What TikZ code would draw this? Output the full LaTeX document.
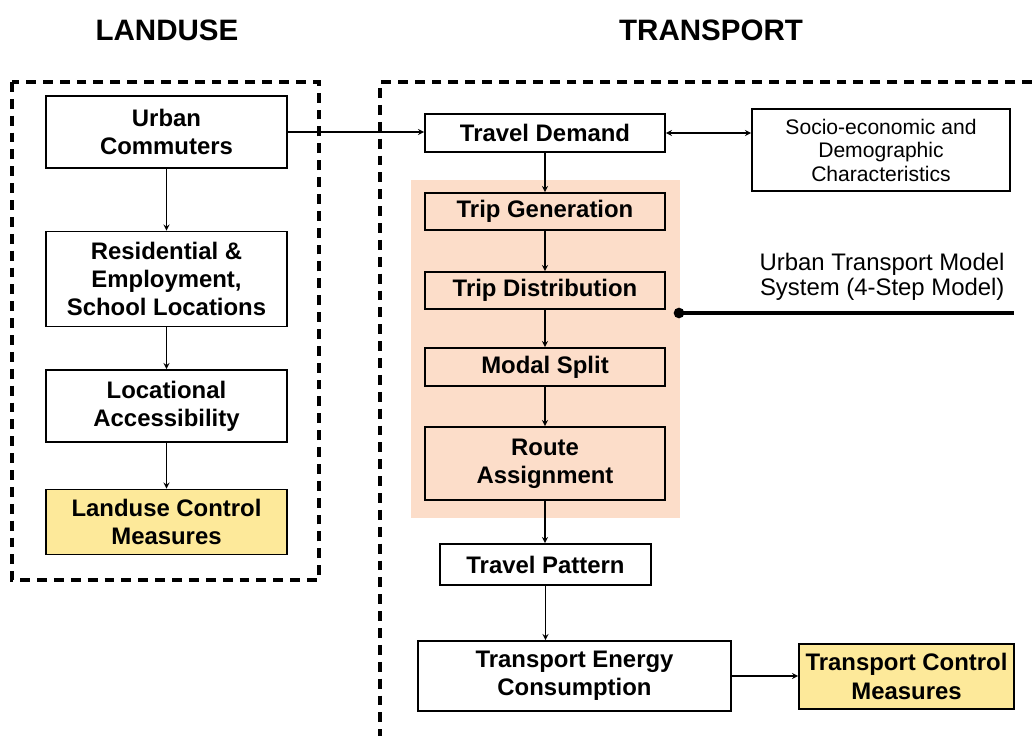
\documentclass[tikz,border=0pt]{standalone}
\usepackage{fontspec}
\setmainfont{Liberation Sans}
\usepackage{tikz}
\definecolor{peach}{RGB}{252,221,201}
\definecolor{paleyellow}{RGB}{253,233,154}
\newcommand{\px}{0.025cm}

\begin{document}
\begin{tikzpicture}[x=0.025cm,y=-0.025cm,
  box/.style={draw,line width=1.4pt,align=center,inner sep=0pt,fill=white,
    font=\bfseries\fontsize{17}{20}\selectfont},
  plainbox/.style={draw,line width=1.4pt,align=center,inner sep=0pt,
    font=\fontsize{15}{16.7}\selectfont},
  ctrl/.style={box,fill=paleyellow},
  stepbox/.style={box,fill=peach},
  region/.style={line width=2.6pt,dash pattern=on 7pt off 5pt},
  heading/.style={font=\bfseries\fontsize{21}{24}\selectfont}]
\useasboundingbox (0,0) rectangle (1032,736);

% headings and dashed regions
\node[heading] (lu) at (167,30) {LANDUSE};
\node[heading] (tr) at (711,30) {TRANSPORT};
\draw[region] (12,82) rectangle (319,580);
\draw[region] (1032,82) -- (380,82) -- (380,736);

% landuse column
\node[box,minimum width=241*\px,minimum height=72*\px] (uc) at (166.5,132) {Urban\\Commuters};
\node[box,minimum width=241*\px,minimum height=95*\px] (res) at (166.5,279) {Residential \&\\Employment,\\School Locations};
\node[box,minimum width=241*\px,minimum height=72*\px] (loc) at (166.5,406) {Locational\\Accessibility};
\node[ctrl,minimum width=241*\px,minimum height=65*\px] (lcm) at (166.5,522) {Landuse Control\\Measures};

% transport column, 4-step model on its shaded panel
\node[fill=peach,minimum width=269*\px,minimum height=338*\px] (model) at (545.5,349) {};
\node[box,minimum width=240*\px,minimum height=38*\px] (td) at (545,133) {Travel Demand};
\node[plainbox,minimum width=258*\px,minimum height=82*\px] (se) at (881,150) {Socio-economic and\\Demographic\\Characteristics};
\node[stepbox,minimum width=240*\px,minimum height=37*\px] (tg) at (545,211.5) {Trip Generation};
\node[stepbox,minimum width=240*\px,minimum height=37*\px] (tdist) at (545,290.5) {Trip Distribution};
\node[stepbox,minimum width=240*\px,minimum height=38*\px] (ms) at (545,367) {Modal Split};
\node[stepbox,minimum width=240*\px,minimum height=73*\px] (ra) at (545,463.5) {Route\\Assignment};
\node[box,minimum width=211*\px,minimum height=41*\px] (tp) at (545.5,564.5) {Travel Pattern};
\node[box,minimum width=313*\px,minimum height=70*\px] (tec) at (574.5,676) {Transport Energy\\Consumption};
\node[ctrl,minimum width=215*\px,minimum height=65*\px] (tcm) at (906.5,676.5) {Transport Control\\Measures};

% label for the model panel
\node[align=right,inner sep=0pt,font=\fontsize{17}{17.8}\selectfont] (utm) at (882,277) {Urban Transport Model\\System (4-Step Model)};
\coordinate (dot) at (679,313);
\coordinate (tail) at (1014,313);
\draw[line width=2.6pt] (dot) -- (tail);
\fill (dot) circle[radius=3.8pt];

\path[-stealth,line width=0.9pt]
(uc)  edge (res)
(res) edge (loc)
(loc) edge (lcm)
(uc.east) edge (uc.east -| td.west)
(td.east) edge[stealth-stealth] (td.east -| se.west)
(td)  edge (tg)
(tg)  edge (tdist)
(tdist) edge (ms)
(ms)  edge (ra)
(ra.south) edge (ra.south |- tp.north)
(tp.south) edge (tp.south |- tec.north)
(tec) edge (tec.east -| tcm.west);
\end{tikzpicture}
\end{document}
